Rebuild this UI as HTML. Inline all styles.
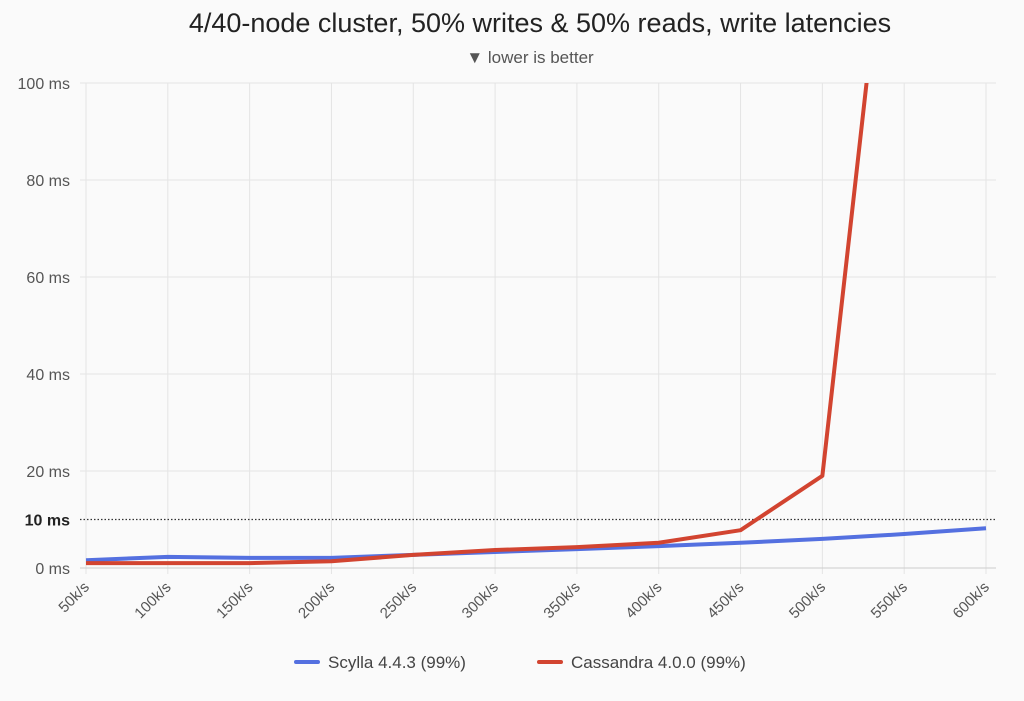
<!DOCTYPE html>
<html><head><meta charset="utf-8"><style>
body{margin:0;background:#fafafa;font-family:"Liberation Sans",sans-serif;}
svg{display:block}
</style></head><body>
<svg width="1024" height="701" id="c">
<defs><clipPath id="clip"><rect x="0" y="83" width="1024" height="520"/></clipPath></defs>
<text x="540" y="32" text-anchor="middle" font-size="27" fill="#222">4/40-node cluster, 50% writes &amp; 50% reads, write latencies</text>
<text x="530" y="63" text-anchor="middle" font-size="17" fill="#555">▼ lower is better</text>
<g id="grid"></g><g id="lines" clip-path="url(#clip)"></g>
<g>
<g><line x1="296" y1="662" x2="318" y2="662" stroke="#5470e0" stroke-width="4" stroke-linecap="round"/><text x="328" y="668" font-size="17" fill="#444">Scylla 4.4.3 (99%)</text></g>
<g><line x1="539" y1="662" x2="561" y2="662" stroke="#d24430" stroke-width="4" stroke-linecap="round"/><text x="571" y="668" font-size="17" fill="#444">Cassandra 4.0.0 (99%)</text></g>
</g>
</svg>
<script>
const categories=["50k/s","100k/s","150k/s","200k/s","250k/s","300k/s","350k/s","400k/s","450k/s","500k/s","550k/s","600k/s"];
const scylla=[1.6,2.3,2.1,2.1,2.7,3.3,3.9,4.5,5.2,6.0,7.0,8.2];
const cassandra=[1.0,1.0,1.0,1.4,2.7,3.7,4.3,5.2,7.8,19,169,null];
const yTicks=[0,20,40,60,80,100];
const NS="http://www.w3.org/2000/svg";
const x0=86,x1=986,y0=568,y1=83;
const xs=i=>x0+i*(x1-x0)/(categories.length-1);
const ys=v=>y0-(v/100)*(y0-y1);
const grid=document.getElementById('grid'),lines=document.getElementById('lines');
function mk(t,a,p){const e=document.createElementNS(NS,t);for(const k in a)e.setAttribute(k,a[k]);p.appendChild(e);return e;}
categories.forEach((c,i)=>{
 const l=mk('line',{x1:xs(i),x2:xs(i),y1:y1,y2:y0+6,stroke:'#e4e4e4','stroke-width':1},grid);
 
 
 const t=mk('text',{x:xs(i)+4,y:y0+20,'font-size':15,fill:'#555','text-anchor':'end',transform:`rotate(-45 ${xs(i)+4} ${y0+20})`},grid);
 t.textContent=c;
 
 
});
yTicks.forEach(v=>{
 const l=mk('line',{x1:x0-6,x2:x1+10,y1:ys(v),y2:ys(v),stroke:v===0?'#ccc':'#e4e4e4','stroke-width':1},grid);
 
 
 const t=mk('text',{x:70,y:ys(v)+6,'font-size':16,fill:'#555','text-anchor':'end'},grid);
 t.textContent=v+' ms';
 
 
});
const r=mk('line',{x1:x0-6,x2:x1+10,y1:ys(10),y2:ys(10),stroke:'#333','stroke-width':1.3,'stroke-dasharray':'1.5 2'},grid);


const rt=mk('text',{x:70,y:ys(10)+6,'font-size':16,fill:'#222','font-weight':'bold','text-anchor':'end'},grid);
rt.textContent='10 ms';


function series(d,col,name){
 const pts=d.map((v,i)=>v==null?null:xs(i)+','+ys(v)).filter(p=>p);
 const p=mk('polyline',{points:pts.join(' '),fill:'none',stroke:col,'stroke-width':4,'stroke-linejoin':'round'},lines);
 
 
}
series(scylla,'#5470e0','scylla-line');
series(cassandra,'#d24430','cassandra-line');
</script>
</body></html>
